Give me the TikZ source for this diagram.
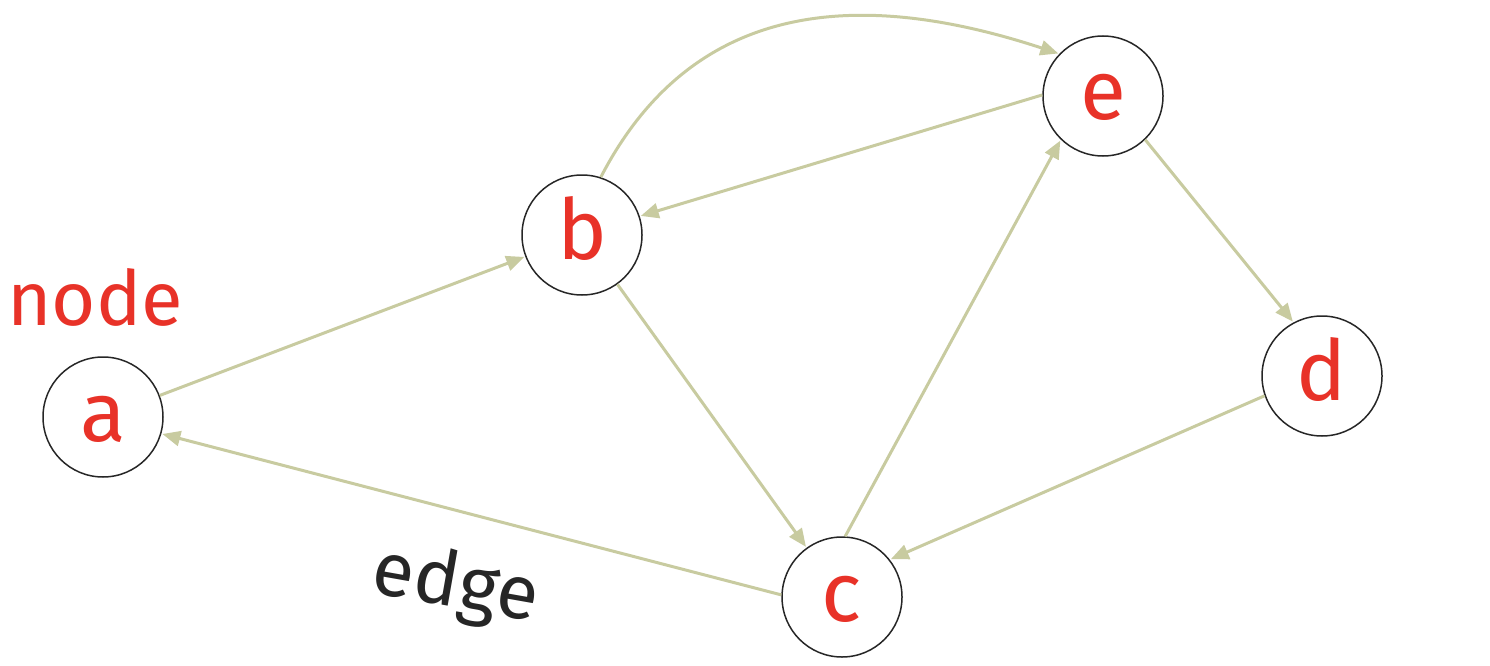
\documentclass[tikz,border=0pt]{standalone}
\usepackage{fontspec}
\setmainfont{Fira Sans}
\usetikzlibrary{arrows.meta}
\definecolor{edgecol}{HTML}{C8CBA0}
\definecolor{labred}{HTML}{E83228}
\definecolor{ink}{HTML}{262626}
\begin{document}
\begin{tikzpicture}[x=1pt,y=-1pt,
  vert/.style={circle,draw=ink,line width=1.5pt,minimum size=120pt,inner sep=0pt,
    text=labred,font=\fontsize{84}{90}\selectfont,text height=48pt,text depth=0pt},
  conn/.style={draw=edgecol,line width=3pt,-{Triangle[length=18pt,width=15pt]},shorten >=1pt},
  tag/.style={font=\fontsize{76}{80}\selectfont,anchor=base,inner sep=0pt}]
\useasboundingbox (0,0) rectangle (1490,666);
\node[vert] (a) at (103,417) {a};
\node[vert] (b) at (582,235) {b};
\node[vert] (e) at (1103,96) {e};
\node[vert] (d) at (1322,376) {d};
\node[vert] (c) at (842,597) {c};
\node[tag,text=labred] (nodetxt) at (95,325) {node};
\node[tag,text=ink,rotate=-10] (edgetxt) at (452,607) {edge};
\draw[conn] (a) -- (b);
\draw[conn] (c.178) -- (a.-16);
\draw[conn] (b.72) .. controls (690,5) and (850,-15) .. (e.136);
\draw[conn] (e.179) -- (b.18);
\draw[conn] (b) -- (c);
\draw[conn] (c.87) -- (e.226);
\draw[conn] (e.-46) -- (d.118);
\draw[conn] (d.199) -- (c.38);
\end{tikzpicture}
\end{document}
